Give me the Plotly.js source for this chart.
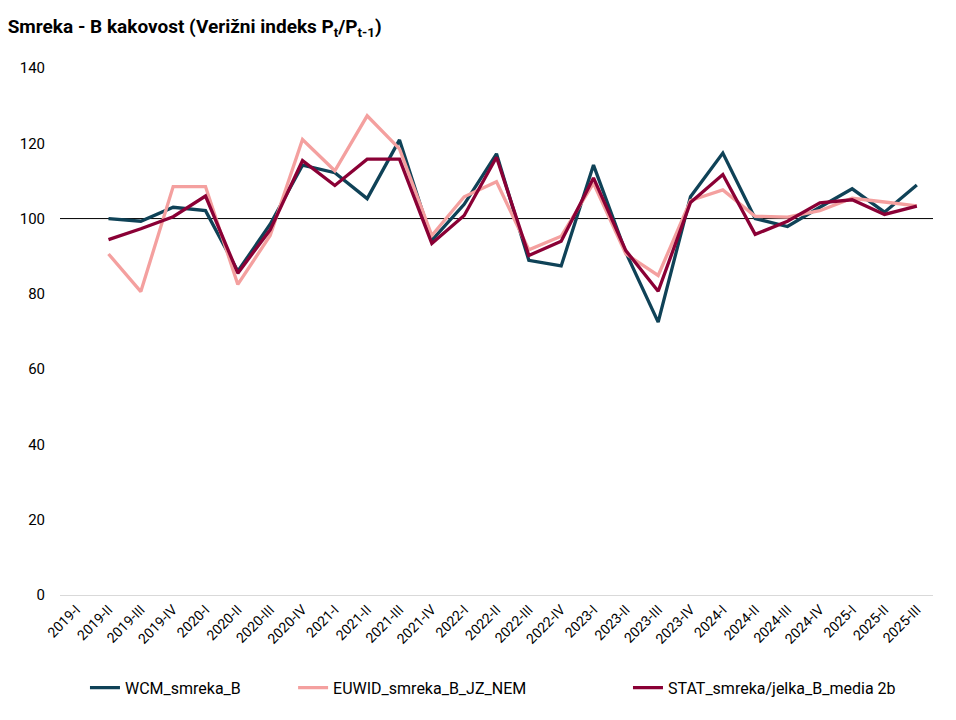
<!DOCTYPE html>
<html>
<head>
<meta charset="utf-8">
<script src="https://cdn.plot.ly/plotly-3.0.1.min.js"></script>
<style>html,body{margin:0;padding:0;background:#fff;}#chart{width:956px;height:720px;}</style>
</head>
<body>
<div id="chart"></div>
<script>
const categories = ["2019-I","2019-II","2019-III","2019-IV","2020-I","2020-II","2020-III","2020-IV","2021-I","2021-II","2021-III","2021-IV","2022-I","2022-II","2022-III","2022-IV","2023-I","2023-II","2023-III","2023-IV","2024-I","2024-II","2024-III","2024-IV","2025-I","2025-II","2025-III"];
const wcm   = [null,100.0,99.3,103.0,102.1,86.0,98.5,114.2,112.2,105.3,120.9,94.2,103.8,117.2,88.9,87.4,114.2,91.0,72.5,105.8,117.4,100.0,97.9,103.0,107.9,101.7,108.9];
const euwid = [null,90.6,80.6,108.5,108.5,82.5,95.5,121.0,112.7,127.3,118.5,95.5,105.8,109.8,91.7,95.3,109.4,90.6,84.9,104.8,107.6,100.6,100.4,102.1,105.4,104.4,103.4];
const stat  = [null,94.4,97.3,100.5,106.0,85.5,97.0,115.4,108.8,115.8,115.8,93.4,100.8,116.3,90.2,94.0,110.8,91.5,80.7,104.3,111.7,95.8,99.3,104.2,105.0,101.1,103.3];
const seriesNames = ["WCM_smreka_B","EUWID_smreka_B_JZ_NEM","STAT_smreka/jelka_B_media 2b"];
const colors = ["#0f4257","#f4a09f","#8a0035"];
const legendIds = ["legend","legend2","legend3"];

const traces = [wcm, euwid, stat].map((vals, i) => ({
  x: categories, y: vals, type: "scatter", mode: "lines",
  name: seriesNames[i],
  line: {color: colors[i], width: 3.3},
  connectgaps: false,
  legend: legendIds[i]
}));

const FONT = "Roboto, 'Liberation Sans', Arial, sans-serif";
const legendBase = {orientation: "h", y: -0.176, yanchor: "middle", xanchor: "left", font: {size: 16}, bgcolor: "rgba(0,0,0,0)"};

const layout = {
  width: 956, height: 720,
  margin: {l: 60, r: 23, t: 68, b: 125},
  paper_bgcolor: "#fff", plot_bgcolor: "#fff",
  font: {family: FONT, color: "#000", size: 14},
  title: {
    text: "<b>Smreka - B kakovost (Verižni indeks P<sub>t</sub>/P<sub>t-1</sub>)</b>",
    x: 0.008, xanchor: "left", y: 0.963, yanchor: "middle",
    font: {size: 19, family: FONT, color: "#000"}
  },
  xaxis: {
    type: "category", tickangle: -45,
    showgrid: false, zeroline: false,
    showline: true, linecolor: "#d9d9d9", linewidth: 1,
    ticks: "", tickfont: {size: 14},
    range: [-0.5, 26.5]
  },
  yaxis: {
    range: [0, 140], dtick: 20, tick0: 0,
    showgrid: false, zeroline: false, showline: false,
    ticks: "", tickfont: {size: 15},
    ticklabelstandoff: 14
  },
  shapes: [{
    type: "line", xref: "paper", yref: "y", x0: 0, x1: 1, y0: 100, y1: 100,
    line: {color: "#000", width: 1}, layer: "below"
  }],
  legend:  Object.assign({}, legendBase, {x: 0.0286}),
  legend2: Object.assign({}, legendBase, {x: 0.267}),
  legend3: Object.assign({}, legendBase, {x: 0.6506}),
  showlegend: true
};

Plotly.newPlot("chart", traces, layout, {displayModeBar: false, staticPlot: true});
</script>
</body>
</html>
